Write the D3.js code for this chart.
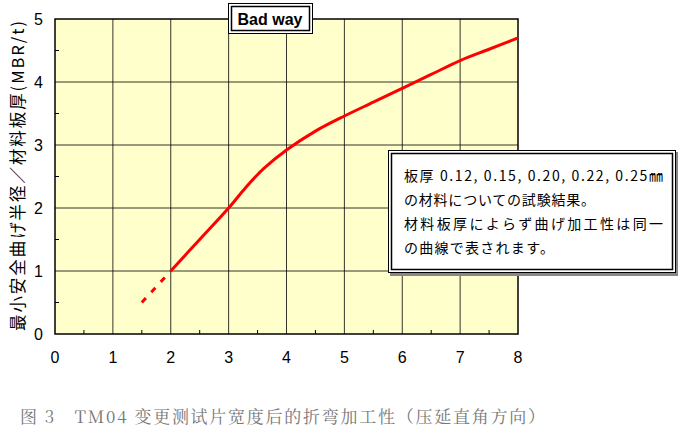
<!DOCTYPE html>
<html><head><meta charset="utf-8">
<script src="https://cdn.jsdelivr.net/npm/d3@7"></script>
<style>body{margin:0;background:#fff}</style>
</head><body><svg id="c" width="688" height="438"></svg>
<script>
const xTicks = [0, 1, 2, 3, 4, 5, 6, 7, 8];
const yTicks = [0, 1, 2, 3, 4, 5];
const solidX = [2, 2.5, 3, 3.3, 3.6, 4, 4.5, 5, 5.5, 6, 6.5, 7, 7.5, 8];
const solidY = [1, 1.5, 2, 2.33, 2.62, 2.92, 3.22, 3.46, 3.68, 3.9, 4.12, 4.34, 4.52, 4.7];
const dashX = [1.5, 2];
const dashY = [0.5, 1];
const noteLines = ["板厚 0.12, 0.15, 0.20, 0.22, 0.25㎜", "の材料についての試験結果。", "材料板厚によらず曲げ加工性は同一", "の曲線で表されます。"];

const svg = d3.select("#c");
const x = d3.scaleLinear().domain([0, 8]).range([55, 518]);
const y = d3.scaleLinear().domain([0, 5]).range([334, 19]);
const font = "'Liberation Sans', Arial, sans-serif";

svg.append("rect").attr("x", 55).attr("y", 19).attr("width", 463).attr("height", 315)
  .attr("fill", "#ffffcc");

svg.selectAll(".gx").data(xTicks.slice(1, -1)).join("line")
  .attr("x1", d => x(d)).attr("x2", d => x(d)).attr("y1", 19).attr("y2", 334)
  .attr("stroke", "#000").attr("stroke-width", 0.8);
svg.selectAll(".gy").data(yTicks.slice(1, -1)).join("line")
  .attr("y1", d => y(d)).attr("y2", d => y(d)).attr("x1", 55).attr("x2", 518)
  .attr("stroke", "#000").attr("stroke-width", 0.8);

// minor ticks
svg.selectAll(".mx").data(d3.range(0.5, 8, 1)).join("line")
  .attr("x1", d => x(d)).attr("x2", d => x(d)).attr("y1", 334).attr("y2", 330)
  .attr("stroke", "#000");
svg.selectAll(".my").data(d3.range(0.5, 5, 1)).join("line")
  .attr("y1", d => y(d)).attr("y2", d => y(d)).attr("x1", 55).attr("x2", 59)
  .attr("stroke", "#000");

svg.append("rect").attr("x", 55).attr("y", 19).attr("width", 463).attr("height", 315)
  .attr("fill", "none").attr("stroke", "#000").attr("stroke-width", 1.5);

svg.selectAll(".tx").data(xTicks).join("text")
  .attr("x", d => x(d)).attr("y", 363).attr("text-anchor", "middle")
  .attr("font-family", font).attr("font-size", 16).text(d => d);
svg.selectAll(".ty").data(yTicks).join("text")
  .attr("x", 43).attr("y", d => y(d) + 6).attr("text-anchor", "end")
  .attr("font-family", font).attr("font-size", 16).text(d => d);

svg.append("text").attr("transform", "translate(24,176) rotate(-90)")
  .attr("text-anchor", "middle").attr("font-family", "'Noto Sans CJK JP'")
  .attr("font-size", 16.5).attr("textLength", 310).attr("lengthAdjust", "spacing")
  .text("最小安全曲げ半径／材料板厚(MBR/t)");

const line = d3.line().x(d => x(d[0])).y(d => y(d[1])).curve(d3.curveCatmullRom.alpha(0.5));
svg.append("path").datum(solidX.map((v, i) => [v, solidY[i]])).attr("d", line)
  .attr("fill", "none").attr("stroke", "#ff0000").attr("stroke-width", 3);
svg.append("path").datum(dashX.map((v, i) => [v, dashY[i]])).attr("d", d3.line().x(d => x(d[0])).y(d => y(d[1])))
  .attr("fill", "none").attr("stroke", "#ff0000").attr("stroke-width", 3)
  .attr("stroke-dasharray", "6,8");

// Bad way box
svg.append("rect").attr("x", 228.5).attr("y", 3.5).attr("width", 84).attr("height", 30)
  .attr("fill", "#fff").attr("stroke", "#000").attr("stroke-width", 1);
svg.append("rect").attr("x", 231.5).attr("y", 6.5).attr("width", 78).attr("height", 24)
  .attr("fill", "#fff").attr("stroke", "#000").attr("stroke-width", 1.5);
svg.append("text").attr("x", 270).attr("y", 25).attr("text-anchor", "middle")
  .attr("font-family", font).attr("font-weight", "bold").attr("font-size", 16).text("Bad way");

// note box
svg.append("rect").attr("x", 390).attr("y", 152).attr("width", 288).attr("height", 124).attr("fill", "#888");
svg.append("rect").attr("x", 388.5).attr("y", 150.5).attr("width", 287).attr("height", 122)
  .attr("fill", "#fff").attr("stroke", "#000").attr("stroke-width", 1);
svg.append("rect").attr("x", 391.5).attr("y", 153.5).attr("width", 281).attr("height", 116)
  .attr("fill", "#fff").attr("stroke", "#000").attr("stroke-width", 1.5);
const noteLen = [259, 191, 259, 150];
svg.selectAll(".note").data(noteLines).join("text")
  .attr("x", 404).attr("y", (d, i) => 181 + i * 24)
  .attr("textLength", (d, i) => noteLen[i]).attr("lengthAdjust", "spacing")
  .attr("font-family", "'Noto Sans CJK JP'").attr("font-size", 14).text(d => d);

svg.append("text").attr("x", 20).attr("y", 423)
  .attr("font-family", "'Noto Serif CJK SC', 'Noto Sans CJK SC', serif").attr("fill", "#777")
  .attr("font-size", 17).attr("textLength", 525).attr("lengthAdjust", "spacing")
  .text("图 3　TM04 变更测试片宽度后的折弯加工性（压延直角方向）");
</script></body></html>
